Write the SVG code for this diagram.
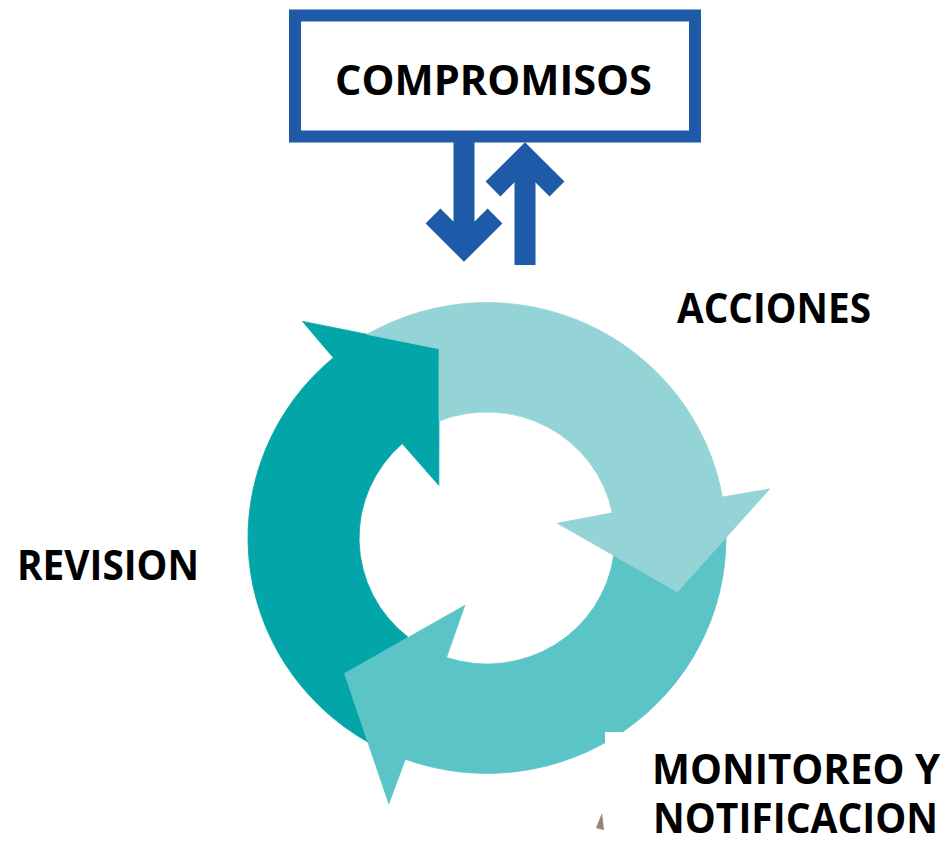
<svg xmlns="http://www.w3.org/2000/svg" xmlns:xlink="http://www.w3.org/1999/xlink" width="945" height="845" viewBox="0 0 945 845">
  <style>
    .lbl { font-family: "Open Sans", "Liberation Sans", sans-serif; font-weight: 700; font-size: 41px; fill: #000000; }
    .blue { fill: none; stroke: #1F5AA8; stroke-width: 21; stroke-linejoin: miter; stroke-miterlimit: 10; stroke-linecap: butt; }
  </style>
  <defs>
    <path id="cycArrow" d="M-172.2,-165.7 A239,239 0 0 1 214.8,-104.8 L258,-125.8 L198,0 L63.6,-33.8 L113.5,-59.1 A128,128 0 0 0 -78.8,-100.9 L-99,-171.5 Z"/>
  </defs>
  <rect x="0" y="0" width="945" height="845" fill="#FFFFFF"/>

  <g id="cycle">
    <g id="arrow-revision" transform="translate(487,538) scale(1,0.985) rotate(256)">
      <use xlink:href="#cycArrow" href="#cycArrow" fill="#02A6A8" stroke="#02A6A8" stroke-width="0.8"/>
    </g>
    <g id="arrow-monitoreo" transform="translate(487,538) scale(1,0.985) rotate(136)">
      <use xlink:href="#cycArrow" href="#cycArrow" fill="#5BC4C7" stroke="#5BC4C7" stroke-width="0.8"/>
    </g>
    <g id="arrow-acciones" transform="translate(487,538) scale(1,0.985) rotate(16)">
      <use xlink:href="#cycArrow" href="#cycArrow" fill="#94D4D6" stroke="#94D4D6" stroke-width="0.8"/>
    </g>
  </g>

  <g id="compromisos">
    <rect x="295" y="15.5" width="400" height="121" fill="#FFFFFF" stroke="#1F5AA8" stroke-width="12"/>
    <text class="lbl" x="335" y="95" textLength="317" lengthAdjust="spacingAndGlyphs">COMPROMISOS</text>
  </g>

  <g id="connectors">
    <path class="blue" d="M464,141 L464,247"/>
    <path class="blue" d="M433,216 L464,247 L495,216"/>
    <path class="blue" d="M525,265 L525,158"/>
    <path class="blue" d="M493,189 L525,157 L557,189"/>
  </g>

  <g id="label-acciones">
    <text class="lbl" x="677" y="323" textLength="194" lengthAdjust="spacingAndGlyphs">ACCIONES</text>
  </g>
  <g id="label-revision">
    <text class="lbl" x="17" y="580" textLength="182" lengthAdjust="spacingAndGlyphs">REVISION</text>
  </g>
  <g id="label-monitoreo">
    <rect x="605" y="732" width="340" height="113" fill="#FFFFFF"/>
    <path d="M602,813 L604,830 L596,828 Z" fill="#4A3420" opacity="0.6"/>
    <text class="lbl" x="652" y="783.5" textLength="288" lengthAdjust="spacingAndGlyphs">MONITOREO Y</text>
    <text class="lbl" x="653" y="832.5" textLength="285" lengthAdjust="spacingAndGlyphs">NOTIFICACION</text>
  </g>
</svg>
